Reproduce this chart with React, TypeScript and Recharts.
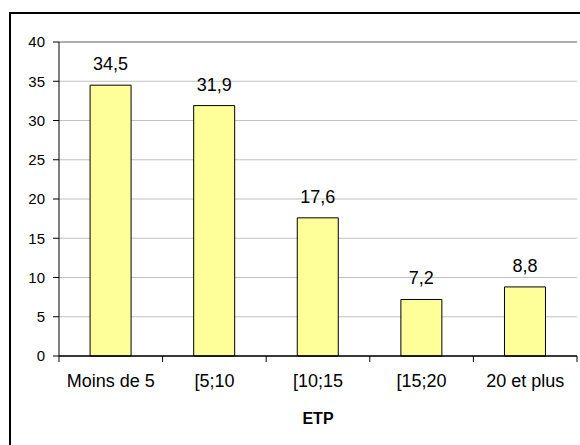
import React from 'react';
import {
  BarChart,
  Bar,
  XAxis,
  YAxis,
  CartesianGrid,
  LabelList,
  ReferenceLine,
} from 'recharts';

// Répartition par tranche d'ETP (%)
const categories = ['Moins de 5', '[5;10', '[10;15', '[15;20', '20 et plus'];
const shares = [34.5, 31.9, 17.6, 7.2, 8.8];
const yTicks = [0, 5, 10, 15, 20, 25, 30, 35, 40];

const rows = categories.map((name, i) => ({ name, value: shares[i] }));

const FONT = '"Liberation Sans", Arial, sans-serif';
const frComma = (v: number | string) => String(v).replace('.', ',');

const CHART_W = 580;
const CHART_H = 445;
const MARGIN = { top: 42, right: 3, bottom: 19, left: 0 };
const Y_AXIS_W = 59;
const PLOT_W = CHART_W - MARGIN.left - MARGIN.right - Y_AXIS_W;

// libellé de catégorie + graduation entre les catégories (style Excel)
const CategoryTick = (props: any) => {
  const { x, y, payload, index } = props;
  const half = PLOT_W / categories.length / 2;
  const isLast = index === categories.length - 1;
  return (
    <g>
      <line x1={x - half} y1={y} x2={x - half} y2={y + 6} stroke="#000" strokeWidth={1} />
      {isLast && (
        <line x1={x + half} y1={y} x2={x + half} y2={y + 6} stroke="#000" strokeWidth={1} />
      )}
      <text
        x={x}
        y={y + 18}
        dy="0.71em"
        textAnchor="middle"
        fill="#000"
        fontSize={18}
        fontFamily={FONT}
      >
        {payload.value}
      </text>
    </g>
  );
};

export default function App() {
  return (
    <div
      style={{
        position: 'absolute',
        left: 0,
        top: 0,
        width: CHART_W,
        height: CHART_H,
        overflow: 'hidden',
        background: '#fff',
        fontFamily: FONT,
      }}
    >
      {/* cadre noir du graphique */}
      <div
        style={{
          position: 'absolute',
          left: 9,
          top: 12,
          width: 600,
          height: 460,
          border: '2px solid #000',
          pointerEvents: 'none',
        }}
      />
      <BarChart
        width={CHART_W}
        height={CHART_H}
        data={rows}
        margin={MARGIN}
        barCategoryGap="30%"
        style={{ position: 'absolute', left: 0, top: 0 }}
      >
        <CartesianGrid vertical={false} stroke="#c0c0c0" />
        <ReferenceLine y={40} stroke="#808080" />
        <Bar
          dataKey="value"
          fill="#FFFF99"
          stroke="#000"
          strokeWidth={1}
          isAnimationActive={false}
        >
          <LabelList
            dataKey="value"
            position="top"
            offset={15}
            formatter={frComma}
            fill="#000"
            fontSize={18}
            fontFamily={FONT}
          />
        </Bar>
        <XAxis
          dataKey="name"
          height={70}
          stroke="#000"
          axisLine={{ stroke: '#000', strokeWidth: 1.5 }}
          tickLine={false}
          tickSize={0}
          tickMargin={0}
          interval={0}
          tick={<CategoryTick />}
          label={{
            value: 'ETP',
            position: 'insideBottom',
            offset: 2,
            fill: '#000',
            fontSize: 16,
            fontWeight: 'bold',
            fontFamily: FONT,
          }}
        />
        <YAxis
          domain={[0, 40]}
          ticks={yTicks}
          width={Y_AXIS_W}
          tickSize={6}
          tickMargin={8}
          stroke="#000"
          axisLine={{ stroke: '#000' }}
          tickLine={{ stroke: '#000' }}
          tick={{ fill: '#000', fontSize: 15, fontFamily: FONT }}
        />
        <YAxis
          yAxisId="frame"
          orientation="right"
          domain={[0, 40]}
          width={0}
          tick={false}
          tickLine={false}
          axisLine={{ stroke: '#808080' }}
        />
      </BarChart>
    </div>
  );
}
